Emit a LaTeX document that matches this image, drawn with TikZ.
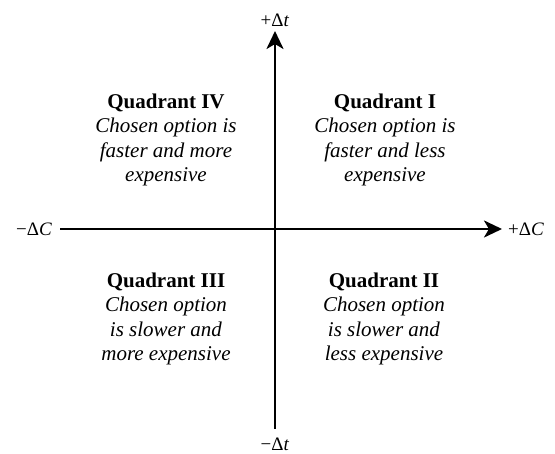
\documentclass[tikz,border=0pt]{standalone}
\usepackage{fontspec}
\setmainfont{Liberation Serif}
\usetikzlibrary{arrows.meta}
\tikzset{
  axis/.style={line width=2.6pt, -{Stealth[length=18pt,width=17pt,inset=5pt]}},
  axlabel/.style={font=\fontsize{19}{22}\selectfont, inner sep=0pt},
  quad/.style={align=center, font=\fontsize{21}{24.5}\selectfont, inner sep=0pt}
}
\begin{document}
\begin{tikzpicture}[x=1pt,y=-1pt]
\useasboundingbox (0,0) rectangle (555,454);
\coordinate (left) at (60,229);
\coordinate (right) at (502,229);
\coordinate (bottom) at (275,429);
\coordinate (top) at (275,31);
\draw[axis] (left) -- (right);
\draw[axis] (bottom) -- (top);
\node[axlabel] (pt) at (275,20) {+Δ\textit{t}};
\node[axlabel] (mt) at (275,444) {−Δ\textit{t}};
\node[axlabel] (mc) at (34,229) {−Δ\textit{C}};
\node[axlabel] (pc) at (526,229) {+Δ\textit{C}};
\node[quad] (q4) at (166,140) {\textbf{Quadrant IV}\\\textit{Chosen option is}\\\textit{faster and more}\\\textit{expensive}};
\node[quad] (q1) at (385,140) {\textbf{Quadrant I}\\\textit{Chosen option is}\\\textit{faster and less}\\\textit{expensive}};
\node[quad] (q3) at (166,319) {\textbf{Quadrant III}\\\textit{Chosen option}\\\textit{is slower and}\\\textit{more expensive}};
\node[quad] (q2) at (384,319) {\textbf{Quadrant II}\\\textit{Chosen option}\\\textit{is slower and}\\\textit{less expensive}};
\end{tikzpicture}
\end{document}
